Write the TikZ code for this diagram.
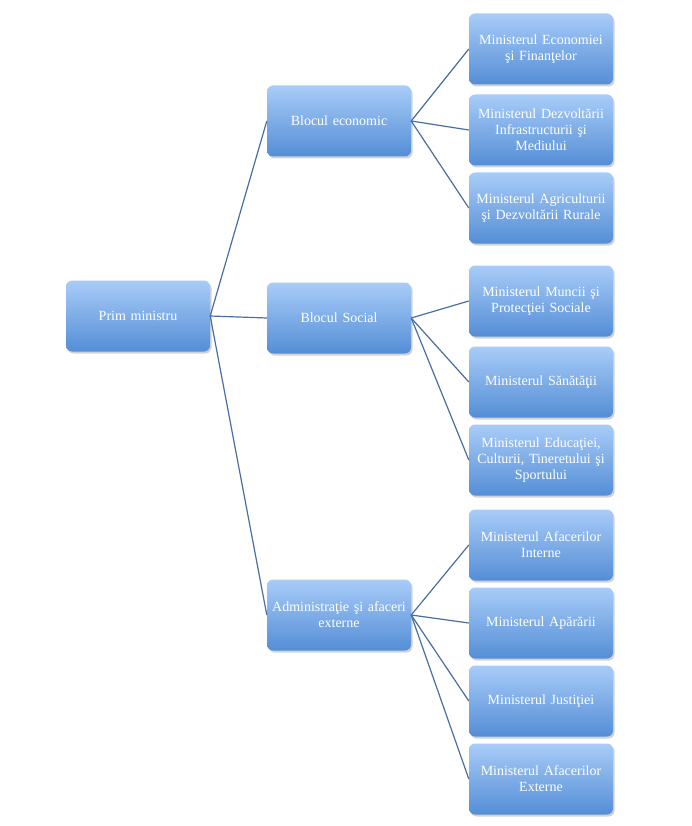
\documentclass[tikz,border=0pt]{standalone}
\usepackage{fontspec}
\setmainfont{Liberation Serif}
\usetikzlibrary{positioning,shadows}
\definecolor{boxtop}{RGB}{168,204,248}
\definecolor{boxbot}{RGB}{84,142,214}
\definecolor{linkblue}{RGB}{72,110,162}

\begin{document}
\begin{tikzpicture}[
  x=1pt, y=1pt,
  font=\fontsize{14}{16}\selectfont,
  unit/.style={rounded corners=6pt, minimum width=144pt, minimum height=71pt,
               text width=142pt, align=center, inner sep=1pt, text=white,
               top color=boxtop, bottom color=boxbot, draw=none,
               drop shadow={shadow xshift=1.5pt, shadow yshift=-2pt,
                            fill=black!35, opacity=0.5}},
  link/.style={draw=linkblue, line width=1.2pt},
]
\useasboundingbox (0,0) rectangle (691,-826);

% ==================== level 1 ====================
\node[unit] (pm) at (138,-316) {Prim ministru};

% ==================== level 2 : blocks ====================
\node[unit] (eco) at (339,-121) {Blocul economic};
\node[unit] (soc) at (339,-318) {Blocul Social};
\node[unit] (adm) at (339,-615) {Administraţie şi afaceri\\externe};

% ==================== level 3 : ministries ====================
\node[unit] (m1) at (541,-49) {Ministerul Economiei\\şi Finanţelor};
\node[unit] (m2) at (541,-130) {Ministerul Dezvoltării\\Infrastructurii şi\\Mediului};
\node[unit] (m3) at (541,-208) {Ministerul Agriculturii\\şi Dezvoltării Rurale};
\node[unit] (m4) at (541,-301) {Ministerul Muncii şi\\Protecţiei Sociale};
\node[unit] (m5) at (541,-382) {Ministerul Sănătăţii};
\node[unit] (m6) at (541,-460) {Ministerul Educaţiei,\\Culturii, Tineretului şi\\Sportului};
\node[unit] (m7) at (541,-545) {Ministerul Afacerilor\\Interne};
\node[unit] (m8) at (541,-623) {Ministerul Apărării};
\node[unit] (m9) at (541,-701) {Ministerul Justiţiei};
\node[unit] (m10) at (541,-779) {Ministerul Afacerilor\\Externe};

% ==================== connectors ====================
\foreach \b in {eco,soc,adm}
  \draw[link] (pm.east) -- (\b.west);
\foreach \m in {m1,m2,m3}
  \draw[link] (eco.east) -- (\m.west);
\foreach \m in {m4,m5,m6}
  \draw[link] (soc.east) -- (\m.west);
\foreach \m in {m7,m8,m9,m10}
  \draw[link] (adm.east) -- (\m.west);

\end{tikzpicture}
\end{document}
